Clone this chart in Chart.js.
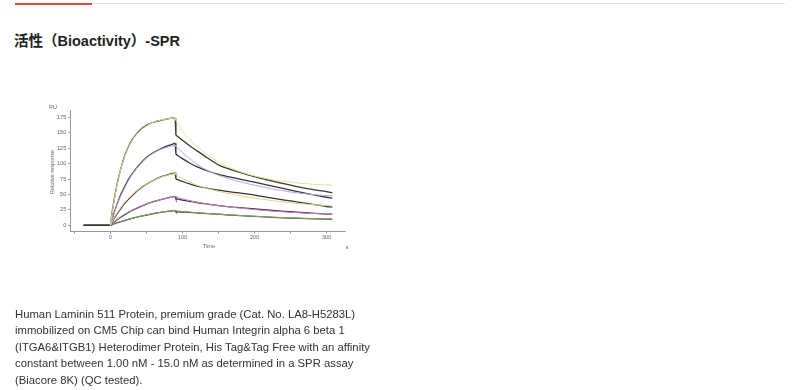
<!DOCTYPE html>
<html>
<head>
<meta charset="utf-8">
<script src="https://cdn.jsdelivr.net/npm/chart.js@4.4.0/dist/chart.umd.min.js"></script>
<style>
  html, body { margin: 0; padding: 0; background: #fff; width: 800px; height: 390px; overflow: hidden; }
  #topline { position: absolute; left: 15px; top: 3px; width: 770px; height: 1px; background: #e2e2e2; }
  #redline { position: absolute; left: 15px; top: 3px; width: 77px; height: 1.5px; background: #e0483e; }
  #title { position: absolute; left: 14px; top: 30.5px; font: bold 14.5px "Liberation Sans", Arial, "Noto Sans CJK SC", sans-serif; color: #222; line-height: 20px; white-space: nowrap; }
  #desc { position: absolute; left: 15px; top: 305.5px; font: 11.3px "Liberation Sans", Arial, sans-serif; color: #333; line-height: 16.5px; white-space: nowrap; }
  #chart { position: absolute; left: 0; top: 0; }
</style>
</head>
<body>
<div id="topline"></div>
<div id="redline"></div>
<div id="title">活性（Bioactivity）-SPR</div>
<canvas id="chart" width="800" height="390"></canvas>
<div id="desc">Human Laminin 511 Protein, premium grade (Cat. No. LA8-H5283L)<br>immobilized on CM5 Chip can bind Human Integrin alpha 6 beta 1<br>(ITGA6&amp;ITGB1) Heterodimer Protein, His Tag&amp;Tag Free with an affinity<br>constant between 1.00 nM - 15.0 nM as determined in a SPR assay<br>(Biacore 8K) (QC tested).</div>
<script>
// Time points (s) of the measured sensorgrams
const tBlack = [-37, 0, 3, 6, 10, 15, 20, 25, 30, 40, 50, 60, 70, 80, 90, 91, 100, 110, 120, 135, 150, 175, 200, 225, 250, 275, 300, 308];
// Measured responses (RU)
const resp1 = [0, 0, 25, 46, 70, 94, 113, 127, 138, 153, 162, 167, 170, 172.5, 174, 146, 138, 129, 121, 109, 98, 87.5, 79, 71.5, 65, 59, 54.5, 53];
const resp2 = [0, 0, 12, 23, 36, 51, 63, 74, 83, 98, 110, 118, 124, 129, 133, 115, 108, 101, 95, 88, 82.5, 76, 70, 63.5, 57, 51, 45.5, 44];
const resp3 = [0, 0, 6.4, 12.4, 19.7, 28, 35.5, 42, 48, 58.5, 66.5, 73, 78.5, 82, 85, 75, 71, 67, 63.5, 60, 57, 53, 49, 44, 39.5, 35, 30.5, 29.5];
const resp4 = [0, 0, 3, 5.8, 9.4, 13.5, 17.3, 20.7, 24, 29.6, 34.4, 38.4, 41.8, 44.6, 47, 43, 41, 39, 37, 34.5, 32, 29, 26.5, 24, 22, 20, 18.3, 18];
const resp5 = [0, 0, 1.3, 2.6, 4.2, 6.1, 7.8, 9.5, 11.1, 14, 16.5, 19, 21, 22.6, 24, 22, 21.5, 21, 20, 19, 18, 16, 14.5, 13, 11.8, 10.8, 10, 9.7];
// Time points of fitted curves
const tFit = [0, 3, 6, 10, 15, 20, 25, 30, 40, 50, 60, 70, 80, 90, 91, 100, 110, 120, 135, 150, 175, 200, 225, 250, 275, 300, 308];
const fit1 = [0, 24, 45, 69, 93, 112, 126, 137, 152, 161, 167, 170.5, 172.5, 174, 170, 153, 139, 128, 114, 103, 89, 80, 74, 70, 67, 65.5, 65];
const fit2 = [0, 12, 22, 35, 49, 61, 72, 82, 97, 109, 117, 123, 127, 130, 128, 118, 108, 99, 89, 81, 72, 65, 59, 54, 50.5, 48, 47.5];
const fit3 = [0, 7, 13.5, 21, 29.5, 37, 43.5, 49, 59, 67, 73, 78, 81.5, 84, 82, 76, 70, 65, 59.5, 55, 49, 44, 40, 36.5, 34, 32, 31.5];
const fit4 = [0, 3.3, 6.2, 10, 14.2, 18, 21.5, 24.6, 30, 34.6, 38.5, 41.7, 44.3, 46.5, 46, 43, 40, 37.5, 34.5, 32, 28.5, 25.5, 23, 21, 19.5, 18.3, 18];
const fit5 = [0, 1.4, 2.8, 4.4, 6.3, 8, 9.7, 11.3, 14.2, 16.8, 19.2, 21.2, 22.8, 24, 23.5, 22.5, 21.5, 20.5, 19.2, 18, 16.2, 14.6, 13.2, 12, 11, 10.2, 9.9];
// Axis ticks
const xTicks = [-50, 0, 50, 100, 150, 200, 250, 300];
const xLabelTicks = [0, 100, 200, 300];
const yTicks = [0, 25, 50, 75, 100, 125, 150, 175];

const fits = [fit1, fit2, fit3, fit4, fit5];
const fitColors = ['#e8df9c', '#bca6da', '#ddd58c', '#c685ca', '#86a866'];
const resps = [resp1, resp2, resp3, resp4, resp5];
const blackColors = ['#3a3a2a', '#34343c', '#36362e', '#3a3038', '#303a30'];

const pts = (ts, vs, a, b) => ts.slice(a, b).map((t, i) => ({ x: t, y: vs.slice(a, b)[i] }));
const datasets = [];
const line = (data, color, width, smooth) => ({ data, borderColor: color, borderWidth: width, pointRadius: 0,
  cubicInterpolationMode: smooth ? 'monotone' : 'default', tension: 0, fill: false });
// fits: association part (to 90 s), dissociation part (from 91 s)
const fSplit = tFit.indexOf(91);
fits.forEach((f, i) => {
  datasets.push(line(pts(tFit, f, 0, fSplit), fitColors[i], 1, true));
  datasets.push(line(pts(tFit, f, fSplit - 1, fSplit + 1), fitColors[i], 1, false));
  datasets.push(line(pts(tFit, f, fSplit), fitColors[i], 1, true));
});
// measured: baseline, association, drop, dissociation
const b0 = tBlack.indexOf(0), bSplit = tBlack.indexOf(91);
resps.forEach((r, i) => {
  datasets.push(line(pts(tBlack, r, 0, b0 + 1), blackColors[i], 1.3, false));
  datasets.push(line(pts(tBlack, r, b0, bSplit), blackColors[i], 1.3, true));
  datasets.push(line(pts(tBlack, r, bSplit - 1, bSplit + 1), blackColors[i], 1.3, false));
  datasets.push(line(pts(tBlack, r, bSplit), blackColors[i], 1.3, true));
});

const labelsPlugin = {
  id: 'extraLabels',
  afterDraw(chart) {
    const ctx = chart.ctx;
    ctx.save();
    ctx.fillStyle = '#666';
    ctx.font = '5.5px "Liberation Sans", Arial, sans-serif';
    ctx.textAlign = 'center';
    ctx.textBaseline = 'middle';
    ctx.fillText('RU', 53, 107);
    ctx.fillText('Time', 209, 246);
    ctx.fillText('s', 347, 247);
    ctx.translate(52.5, 172);
    ctx.rotate(-Math.PI / 2);
    ctx.fillText('Relative response', 0, 0);
    ctx.restore();
  }
};

new Chart(document.getElementById('chart'), {
  type: 'line',
  data: { datasets },
  options: {
    responsive: false,
    animation: false,
    events: [],
    layout: { padding: { left: 40, top: 110.7, right: 454, bottom: 140 } },
    plugins: { legend: { display: false }, tooltip: { enabled: false } },
    scales: {
      x: {
        type: 'linear', min: -55, max: 327,
        afterBuildTicks: s => { s.ticks = xTicks.map(v => ({ value: v })); },
        afterFit: s => { s.height = 19; },
        grid: { drawOnChartArea: false, drawTicks: true, tickLength: 2.5, color: '#999' },
        border: { display: true, color: '#999', width: 1 },
        ticks: { autoSkip: false, maxRotation: 0, padding: 1, color: '#666', font: { size: 5.5, family: '"Liberation Sans", Arial' },
          callback: v => xLabelTicks.includes(v) ? String(v) : '' }
      },
      y: {
        type: 'linear', min: -9.2, max: 185.7,
        afterBuildTicks: s => { s.ticks = yTicks.map(v => ({ value: v })); },
        afterFit: s => { s.width = 30.7; },
        grid: { drawOnChartArea: false, drawTicks: true, tickLength: 2.5, color: '#999' },
        border: { display: true, color: '#999', width: 1 },
        ticks: { autoSkip: false, padding: 2, color: '#666', font: { size: 5.5, family: '"Liberation Sans", Arial' } }
      }
    }
  },
  plugins: [labelsPlugin]
});
</script>
</body>
</html>
